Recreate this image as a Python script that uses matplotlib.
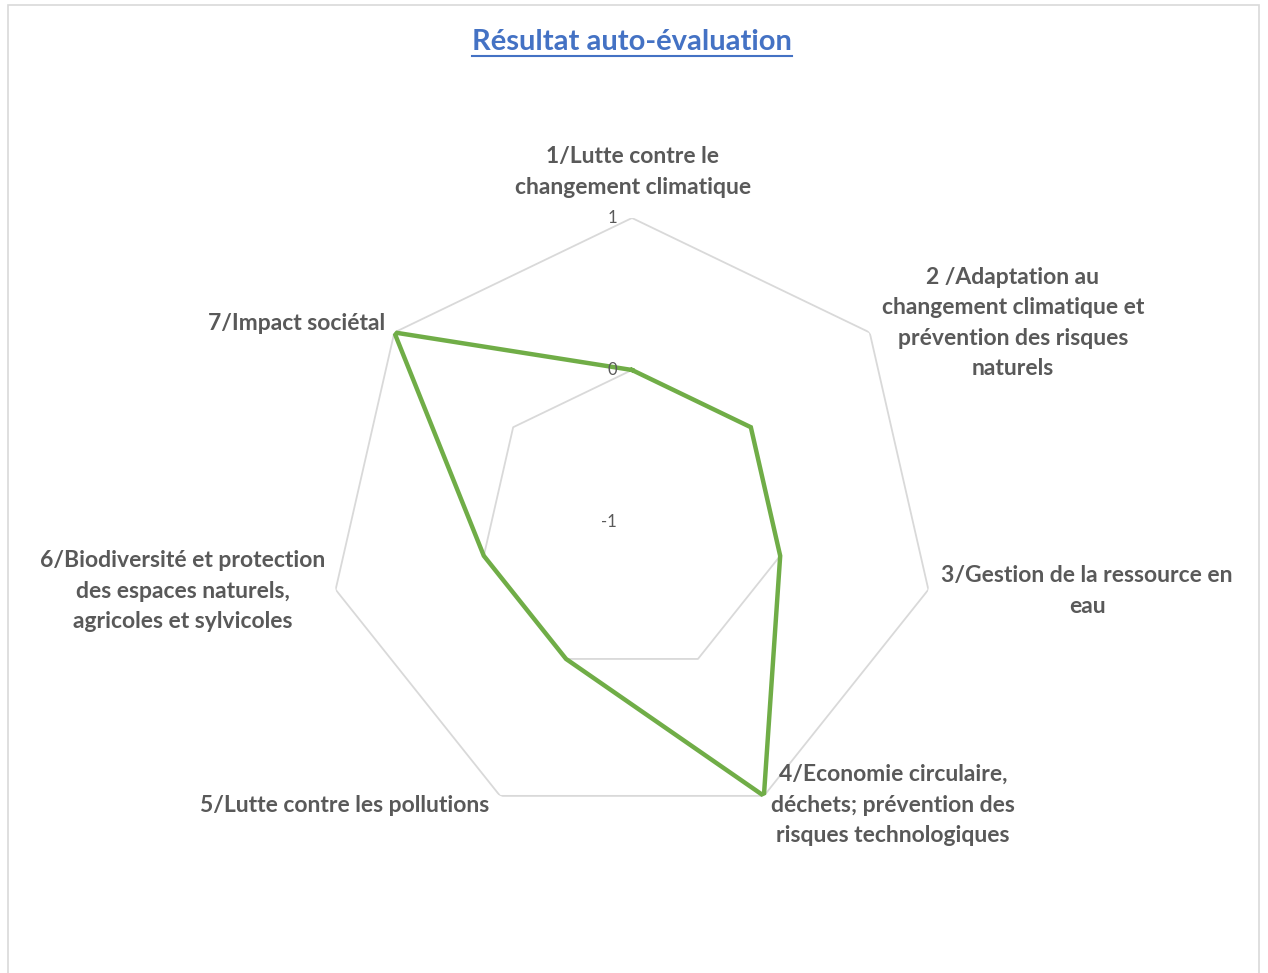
import matplotlib.pyplot as plt
import matplotlib.patches as mpatches
import matplotlib.transforms as mtransforms
from matplotlib.lines import Line2D
import numpy as np

categories = [
    "1/Lutte contre le\nchangement climatique",
    "2 /Adaptation au\nchangement climatique et\nprévention des risques\nnaturels",
    "3/Gestion de la ressource en\neau",
    "4/Economie circulaire,\ndéchets; prévention des\nrisques technologiques",
    "5/Lutte contre les pollutions",
    "6/Biodiversité et protection\ndes espaces naturels,\nagricoles et sylvicoles",
    "7/Impact sociétal",
]
values = [0, 0, 0, 1, 0, 0, 1]
grid_levels = [-1, 0, 1]
title = "Résultat auto-évaluation"

W, H = 1268, 973
GREY = "#595959"
FONT = "Lato"


def fx(px):
    return px / W


def fy(py):
    return 1 - py / H


fig = plt.figure(figsize=(W / 100, H / 100), dpi=100)

# chart area border
fig.patches.append(mpatches.Rectangle((fx(8), fy(990)), fx(1251), fy(5) - fy(990),
                                      transform=fig.transFigure, fill=False,
                                      edgecolor="#d9d9d9", linewidth=1.2))

# radar axes: centre (632, 522), radius 304 px
cx, cy, rad = 632, 522, 304
ax = fig.add_axes([fx(cx - rad), fy(cy + rad), fx(2 * rad), fy(cy - rad) - fy(cy + rad)],
                  projection="polar")
ax.set_theta_zero_location("N")
ax.set_theta_direction(-1)
ax.set_ylim(-1, 1)
ax.axis("off")

n = len(categories)
angles = np.linspace(0, 2 * np.pi, n, endpoint=False)
closed = np.append(angles, angles[0])

for lev in grid_levels[1:]:
    ax.plot(closed, [lev] * (n + 1), color="#d9d9d9", lw=1.3, zorder=1)

vals = values + values[:1]
ax.plot(closed, vals, color="#70AD47", lw=3.2, zorder=3, solid_joinstyle="miter")

# value labels, shifted left of the first spoke
shift = ax.transData + mtransforms.ScaledTranslation(-0.15, 0.0, fig.dpi_scale_trans)
for lev in grid_levels:
    ax.text(0, lev, str(lev), transform=shift, ha="right", va="center",
            fontsize=12, color=GREY, fontfamily=FONT)

# category labels (pixel centres)
label_pos = [(633, 172), (1013, 323), (1087, 591), (893, 805), (345, 805), (183, 591), (297, 323)]
for lab, (px, py) in zip(categories, label_pos):
    fig.text(fx(px), fy(py), lab, ha="center", va="center", ma="center",
             fontsize=16.5, fontweight="bold", color=GREY, fontfamily=FONT, linespacing=1.55)

tt = fig.text(fx(632), fy(42), title, ha="center", va="center", fontsize=21,
              fontweight="bold", color="#4472C4", fontfamily=FONT)
fig.canvas.draw()
bb = tt.get_window_extent()
uy = bb.y0 - 1
fig.add_artist(Line2D([bb.x0 / W, bb.x1 / W], [uy / H, uy / H], transform=fig.transFigure,
                      color="#4472C4", lw=1.5))

fig.savefig("out.png", dpi=100)
